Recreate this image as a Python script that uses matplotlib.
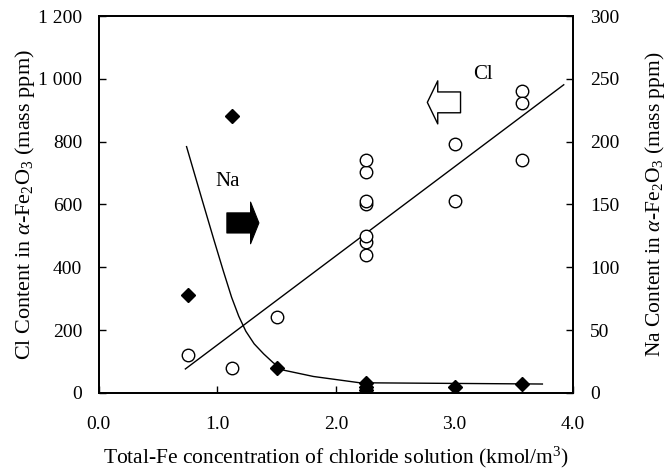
import numpy as np
import matplotlib.pyplot as plt

plt.rcParams['font.family'] = 'Liberation Serif'
plt.rcParams['mathtext.fontset'] = 'custom'
plt.rcParams['mathtext.rm'] = 'Liberation Serif'
plt.rcParams['mathtext.it'] = 'Liberation Serif:italic'

# Cl content (open circles, left axis)
cl_fe = [0.75, 1.12, 1.50, 2.25, 2.25, 2.25, 2.25, 2.25, 2.25, 2.25,
         3.00, 3.00, 3.57, 3.57, 3.57]
cl_ppm = [120, 80, 240, 440, 480, 500, 600, 612, 702, 740,
          792, 612, 962, 922, 740]

# Cl regression line
cl_fit_fe = [0.73, 3.92]
cl_fit_ppm = [76, 981]

# Na content (filled diamonds, right axis)
na_fe = [0.75, 1.12, 1.50, 2.25, 2.25, 2.25, 3.00, 3.57]
na_ppm = [78, 220, 20, 8, 5, 2, 5, 7]

# Na trend curve
na_fit_fe = [0.74, 0.87, 0.97, 1.05, 1.12, 1.18, 1.24, 1.31, 1.39, 1.47, 1.56, 1.81, 2.20, 3.74]
na_fit_ppm = [196, 154, 122, 97, 76, 61, 49, 39, 31, 24, 18, 13, 8, 7]

x_ticks = [0.0, 1.0, 2.0, 3.0, 4.0]
cl_ticks = [0, 200, 400, 600, 800, 1000, 1200]
cl_tick_labels = ['0', '200', '400', '600', '800', '1 000', '1 200']
na_ticks = [0, 50, 100, 150, 200, 250, 300]

fig = plt.figure(figsize=(6.72, 4.71), dpi=100)
ax = fig.add_axes([0.147, 0.166, 0.706, 0.800])
ax2 = ax.twinx()

ax.plot(cl_fit_fe, cl_fit_ppm, color='black', lw=1.0)
ax.plot(cl_fe, cl_ppm, 'o', ms=9, mfc='white', mec='black', mew=1.0)

ax2.plot(na_fit_fe, na_fit_ppm, color='black', lw=1.0)
ax2.plot(na_fe, na_ppm, 'D', ms=7.5, color='black')

ax.set_xlim(0, 4)
ax.set_ylim(0, 1200)
ax2.set_ylim(0, 300)

ax.set_xticks(x_ticks)
ax.set_xticklabels(['%.1f' % v for v in x_ticks])
ax.set_yticks(cl_ticks)
ax.set_yticklabels(cl_tick_labels)
ax2.set_yticks(na_ticks)

ax.tick_params(axis='both', direction='in', length=5, width=1.0, labelsize=14, pad=12)
ax.tick_params(axis='x', pad=17)
ax2.tick_params(axis='y', direction='in', length=5, width=1.0, labelsize=14, pad=12)

for a in (ax, ax2):
    for s in a.spines.values():
        s.set_linewidth(1.3)

ax.set_xlabel('Total-Fe concentration of chloride solution (kmol/m$^3$)', fontsize=15.5, labelpad=8)
ax.set_ylabel(r'Cl Content in $\alpha$-Fe$_2$O$_3$ (mass ppm)', fontsize=16, labelpad=1)
ax2.set_ylabel(r'Na Content in $\alpha$-Fe$_2$O$_3$ (mass ppm)', fontsize=15.5, labelpad=17)

ax.text(1.09, 672, 'Na', fontsize=15, ha='center', va='center')
ax.text(3.24, 1013, 'Cl', fontsize=15, ha='center', va='center')

# solid arrow: Na read on the right axis
ax.annotate('', xy=(1.35, 541), xytext=(1.08, 541),
            arrowprops=dict(arrowstyle='simple,head_length=0.6,head_width=3.0,tail_width=1.45',
                            mutation_scale=10, fc='black', ec='black', lw=0.8,
                            shrinkA=0, shrinkB=0))
# open arrow: Cl read on the left axis
ax.annotate('', xy=(2.77, 925), xytext=(3.05, 925),
            arrowprops=dict(arrowstyle='simple,head_length=0.75,head_width=3.1,tail_width=1.5',
                            mutation_scale=10, fc='white', ec='black', lw=1.0,
                            shrinkA=0, shrinkB=0))

fig.savefig('out.png', dpi=100)
